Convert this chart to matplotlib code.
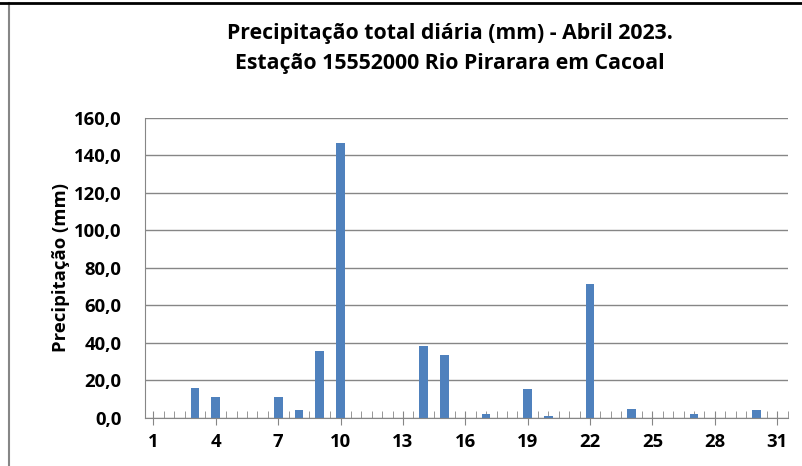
import matplotlib.pyplot as plt
from matplotlib.ticker import MultipleLocator, FuncFormatter
from matplotlib.lines import Line2D

days = list(range(1, 32))
precip = [0, 0, 15.8, 10.8, 0, 0, 10.9, 3.9, 35.6, 146.5,
          0, 0, 0, 38.4, 33.4, 0, 1.8, 0, 15.2, 1.0,
          0, 71.3, 0, 4.7, 0, 0, 1.8, 0, 0, 3.8, 0]
xticks = [1, 4, 7, 10, 13, 16, 19, 22, 25, 28, 31]

plt.rcParams['font.family'] = ['Open Sans', 'DejaVu Sans']

fig = plt.figure(figsize=(8.02, 4.66), dpi=100)
ax = fig.add_axes([0.181, 0.104, 0.801, 0.643])

ax.bar(days, precip, width=0.42, color='#4F81BD', zorder=3)

ax.set_xlim(0.6, 31.5)
ax.set_ylim(0, 160)
ax.yaxis.set_major_locator(MultipleLocator(20))
ax.yaxis.set_major_formatter(FuncFormatter(lambda v, p: f'{v:.1f}'.replace('.', ',')))
ax.set_xticks(xticks)
ax.set_xticklabels([str(d) for d in xticks])
ax.xaxis.set_minor_locator(MultipleLocator(0.5))

ax.grid(axis='y', color='#868686', linewidth=1, zorder=0)
for s in ['top', 'right']:
    ax.spines[s].set_visible(False)
ax.spines['left'].set_color('#868686')
ax.spines['bottom'].set_color('#868686')
ax.spines['bottom'].set_zorder(4)

for lab in ax.get_xticklabels() + ax.get_yticklabels():
    lab.set_fontweight('bold')
ax.tick_params(axis='y', length=0, labelsize=13.3, pad=17)
ax.tick_params(axis='x', which='major', direction='inout', length=10, color='#868686',
               labelsize=13.3, pad=6)
ax.tick_params(axis='x', which='minor', direction='in', length=5, color='#868686')

ax.set_ylabel('Precipitação (mm)', fontsize=13.3, fontweight='bold', labelpad=3)

fig.text(0.561, 0.928, 'Precipitação total diária (mm) - Abril 2023.', ha='center',
         va='center', fontsize=15.3, fontweight='bold')
fig.text(0.561, 0.864, 'Estação 15552000 Rio Pirarara em Cacoal', ha='center',
         va='center', fontsize=15.3, fontweight='bold')

# borda da figura (so esquerda e topo aparecem)
fig.lines.append(Line2D([0.011, 0.011], [0, 0.993], transform=fig.transFigure,
                        color='#868686', linewidth=1.5))
fig.lines.append(Line2D([0, 1], [0.994, 0.994], transform=fig.transFigure,
                        color='black', linewidth=2))

fig.savefig('out.png', dpi=100)
